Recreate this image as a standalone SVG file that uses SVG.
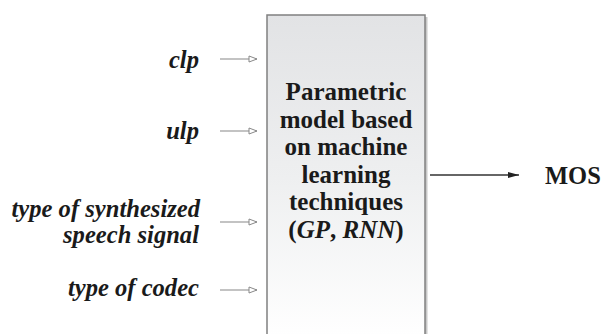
<svg xmlns="http://www.w3.org/2000/svg" width="601" height="334" viewBox="0 0 601 334">
<defs>
<linearGradient id="boxfill" x1="0" y1="0" x2="0" y2="1">
<stop offset="0" stop-color="#e2e3e5"/>
<stop offset="0.5" stop-color="#eeeff0"/>
<stop offset="1" stop-color="#ffffff"/>
</linearGradient>
<marker id="open" markerWidth="10" markerHeight="8" refX="9" refY="4" orient="auto" markerUnits="userSpaceOnUse">
<path d="M1,1 L9,4 L1,7 Z" fill="#ffffff" stroke="#888888" stroke-width="1"/>
</marker>
<marker id="solid" markerWidth="12" markerHeight="8" refX="11" refY="4" orient="auto" markerUnits="userSpaceOnUse">
<path d="M0,1 L11,4 L0,7 Z" fill="#222222"/>
</marker>
</defs>
<style>
.lab{font-family:"Liberation Serif","Times New Roman",serif;font-size:24.6px;font-weight:bold;font-style:italic;fill:#1a1a1a;text-anchor:end}
.box{font-family:"Liberation Serif","Times New Roman",serif;font-size:25px;font-weight:bold;fill:#1a1a1a;text-anchor:middle}
.mos{font-family:"Liberation Serif","Times New Roman",serif;font-size:24.5px;font-weight:bold;fill:#1a1a1a;text-anchor:start}
.in{stroke:#888888;stroke-width:1.2;fill:none;marker-end:url(#open)}
.out{stroke:#333333;stroke-width:1.4;fill:none;marker-end:url(#solid)}
</style>
<g id="model">
<rect x="425" y="17" width="2.5" height="320" fill="#c8c8c8"/>
<rect x="267" y="15" width="158" height="325" fill="url(#boxfill)" stroke="#808080" stroke-width="1.5"/>
<text class="box" x="346" y="100">Parametric</text>
<text class="box" x="346" y="127.5">model based</text>
<text class="box" x="346" y="155">on machine</text>
<text class="box" x="346" y="182.5">learning</text>
<text class="box" x="346" y="210">techniques</text>
<text class="box" x="346" y="237.5">(<tspan font-style="italic">GP</tspan>, <tspan font-style="italic">RNN</tspan>)</text>
</g>
<g id="in-clp"><text class="lab" x="199" y="68">clp</text></g>
<g id="in-ulp"><text class="lab" x="199" y="139">ulp</text></g>
<g id="in-type-speech"><text class="lab" x="200" y="217">type of synthesized</text><text class="lab" x="199" y="243">speech signal</text></g>
<g id="in-codec"><text class="lab" x="199" y="296">type of codec</text></g>
<g id="out-mos"><text class="mos" x="545" y="184">MOS</text></g>
<g id="connectors">
<line class="in" x1="220" y1="59" x2="257" y2="59"/>
<line class="in" x1="220" y1="131" x2="257" y2="131"/>
<line class="in" x1="220" y1="222" x2="257" y2="222"/>
<line class="in" x1="220" y1="290" x2="257" y2="290"/>
<line class="out" x1="430" y1="175" x2="519" y2="175"/>
</g>
</svg>
